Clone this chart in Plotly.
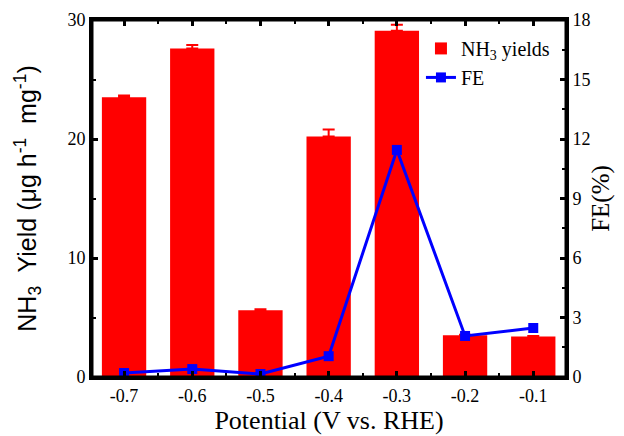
import plotly.graph_objects as go

potential = [-0.7, -0.6, -0.5, -0.4, -0.3, -0.2, -0.1]
nh3_yield = [23.5, 27.6, 5.6, 20.2, 29.1, 3.5, 3.4]
nh3_err = [0.15, 0.3, 0.1, 0.6, 0.5, 0.05, 0.05]
fe = [0.2, 0.4, 0.15, 1.05, 11.45, 2.07, 2.47]
x_ticks = [-0.7, -0.6, -0.5, -0.4, -0.3, -0.2, -0.1]
x_tick_labels = ["-0.7", "-0.6", "-0.5", "-0.4", "-0.3", "-0.2", "-0.1"]

serif = "Liberation Serif"
sans = "Liberation Sans"

fig = go.Figure()
fig.add_trace(go.Bar(
    x=potential, y=nh3_yield, width=0.065,
    marker=dict(color="#ff0000", line=dict(width=0)),
    error_y=dict(type="data", array=nh3_err, arrayminus=[0]*len(nh3_err),
                 color="#ff0000", thickness=2, width=6),
    name="NH<sub>3</sub> yields", yaxis="y"))
fig.add_trace(go.Scatter(
    x=potential, y=fe, mode="lines+markers",
    line=dict(color="#0000ff", width=3),
    marker=dict(symbol="square", size=10, color="#0000ff"),
    name="FE", yaxis="y2"))

fig.add_shape(type="rect", xref="paper", yref="paper", x0=0, y0=0, x1=1, y1=1,
              line=dict(color="black", width=3), layer="above")

# page body has an 8px default margin, so the figure is sized to fit the window
fig.update_layout(
    width=616, height=428,
    margin=dict(l=84, r=58, t=12, b=59),
    plot_bgcolor="white", paper_bgcolor="white",
    showlegend=True,
    legend=dict(x=0.694, y=0.975, xanchor="left", yanchor="top",
                font=dict(family=serif, size=20, color="black"),
                bgcolor="rgba(0,0,0,0)", tracegroupgap=0, itemwidth=30),
    xaxis=dict(range=[-0.747, -0.052], tickvals=x_ticks, ticktext=x_tick_labels,
               ticks="inside", ticklen=6, tickwidth=3, tickcolor="black",
               showline=True, linewidth=3, linecolor="black", mirror="ticks",
               showgrid=False, zeroline=False, automargin=False,
               minor=dict(ticks="inside", ticklen=4, tickwidth=2, tickcolor="black", dtick=0.05, tick0=-0.75),
               tickfont=dict(family=serif, size=18, color="black"),
               title=dict(text="Potential (V vs. RHE)", font=dict(family=serif, size=26, color="black"), standoff=4)),
    yaxis=dict(range=[0, 30], tickvals=[0, 10, 20, 30],
               ticks="inside", ticklen=6, tickwidth=3, tickcolor="black",
               showline=True, linewidth=3, linecolor="black",
               showgrid=False, zeroline=False, automargin=False,
               minor=dict(ticks="inside", ticklen=4, tickwidth=2, tickcolor="black", dtick=5),
               tickfont=dict(family=serif, size=18, color="black"),
               title=dict(text="NH<sub>3</sub>  Yield (μg h<sup>-1</sup>  mg<sup>-1</sup>)",
                          font=dict(family=sans, size=25, color="black"), standoff=24)),
    yaxis2=dict(range=[0, 18], tickvals=[0, 3, 6, 9, 12, 15, 18], overlaying="y", side="right",
                ticks="inside", ticklen=6, tickwidth=3, tickcolor="black",
                showline=True, linewidth=3, linecolor="black",
                showgrid=False, zeroline=False, automargin=False,
                minor=dict(ticks="inside", ticklen=4, tickwidth=2, tickcolor="black", dtick=1.5),
                tickfont=dict(family=serif, size=18, color="black"),
                title=dict(text="FE(%)", font=dict(family=serif, size=25, color="black"), standoff=2)),
)

fig.write_html("out.html")
